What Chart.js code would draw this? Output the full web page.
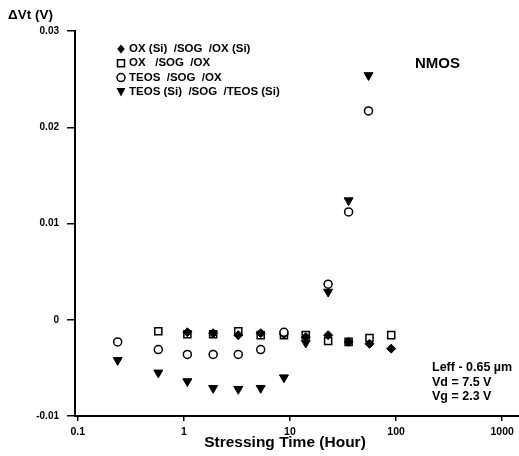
<!DOCTYPE html>
<html>
<head>
<meta charset="utf-8">
<script src="https://cdn.jsdelivr.net/npm/chart.js@4.4.0/dist/chart.umd.min.js"></script>
<style>
  html, body { margin: 0; padding: 0; background: #fff; overflow: hidden; }
  #wrap { width: 519px; height: 456px; position: relative; }
</style>
</head>
<body>
<div id="wrap"><canvas id="chart"></canvas></div>
<script>
// stressing time (hour) and delta Vt (V)
const diamondTime = [1.08, 1.89, 3.26, 5.3, 8.78, 14.1, 22.9, 35.7, 56.2, 90];
const diamondVt = [-0.0013, -0.0014, -0.0016, -0.0014, -0.0015, -0.0018, -0.0016, -0.0023, -0.0025, -0.0030];

const squareTime = [0.575, 1.08, 1.89, 3.26, 5.3, 8.78, 14.1, 22.9, 35.7, 56.2, 90];
const squareVt = [-0.0012, -0.0015, -0.0015, -0.0012, -0.0016, -0.0016, -0.0016, -0.0022, -0.0023, -0.0019, -0.0016];

const circleTime = [0.238, 0.575, 1.08, 1.89, 3.26, 5.3, 8.78, 22.9, 35.7, 55];
const circleVt = [-0.0023, -0.0031, -0.0036, -0.0036, -0.0036, -0.0031, -0.0013, 0.0037, 0.0112, 0.0217];

const triangleTime = [0.238, 0.575, 1.08, 1.89, 3.26, 5.3, 8.78, 14.1, 22.9, 35.7, 55];
const triangleVt = [-0.0042, -0.0055, -0.0064, -0.0071, -0.0072, -0.0071, -0.0060, -0.0024, 0.0029, 0.0124, 0.0254];

const xTickValues = [0.1, 1, 10, 100, 1000];
const seriesNames = [
  'OX (Si)  /SOG  /OX (Si)',
  'OX   /SOG  /OX',
  'TEOS  /SOG  /OX',
  'TEOS (Si)  /SOG  /TEOS (Si)'
];
const noteLines = ['Leff - 0.65 \u00b5m', 'Vd = 7.5 V', 'Vg = 2.3 V'];

const FONT = '"Liberation Sans", Arial, sans-serif';

function toPoints(xs, ys) {
  return xs.map((x, i) => ({ x: x, y: ys[i] }));
}

// small marker painter, used for the hand-placed legend
function drawMarker(ctx, kind, x, y) {
  ctx.save();
  ctx.strokeStyle = '#000';
  ctx.fillStyle = '#000';
  ctx.lineWidth = 1.5;
  ctx.beginPath();
  if (kind === 'diamond') {
    ctx.moveTo(x, y - 4.5); ctx.lineTo(x + 3.8, y); ctx.lineTo(x, y + 4.5); ctx.lineTo(x - 3.8, y);
    ctx.closePath(); ctx.fill();
  } else if (kind === 'square') {
    ctx.rect(x - 3.5, y - 3.5, 7, 7);
    ctx.stroke();
  } else if (kind === 'circle') {
    ctx.arc(x, y, 4, 0, Math.PI * 2);
    ctx.stroke();
  } else {
    ctx.moveTo(x - 4.5, y - 4); ctx.lineTo(x + 4.5, y - 4); ctx.lineTo(x, y + 4.5);
    ctx.closePath(); ctx.fill();
  }
  ctx.restore();
}

const textPlugin = {
  id: 'textPlugin',
  afterDraw(chart) {
    const ctx = chart.ctx;
    const area = chart.chartArea;
    ctx.save();

    // the x axis line runs on to the right edge of the figure
    ctx.strokeStyle = '#000';
    ctx.lineWidth = 2;
    ctx.beginPath();
    ctx.moveTo(area.right - 1, area.bottom);
    ctx.lineTo(chart.width, area.bottom);
    ctx.stroke();

    ctx.fillStyle = '#000';
    ctx.textBaseline = 'middle';

    ctx.font = 'bold 13.5px ' + FONT;
    ctx.textAlign = 'left';
    ctx.fillText('\u0394Vt (V)', 8, 15);

    const kinds = ['diamond', 'square', 'circle', 'triangle'];
    ctx.font = 'bold 11.5px ' + FONT;
    kinds.forEach((k, i) => {
      const y = 49 + i * 14.3;
      drawMarker(ctx, k, 121, y);
      ctx.fillText(seriesNames[i], 129, y);
    });

    ctx.font = 'bold 15px ' + FONT;
    ctx.fillText('NMOS', 415, 64);

    ctx.font = 'bold 12.5px ' + FONT;
    noteLines.forEach((t, i) => ctx.fillText(t, 432, 368 + i * 14.5));

    ctx.font = 'bold 15.5px ' + FONT;
    ctx.textAlign = 'center';
    ctx.fillText('Stressing Time (Hour)', 285, 443);
    ctx.restore();
  }
};

const ctx = document.getElementById('chart').getContext('2d');
const chart = new Chart(ctx, {
  type: 'scatter',
  data: {
    datasets: [
      {
        label: seriesNames[3],
        data: toPoints(triangleTime, triangleVt),
        pointStyle: 'triangle',
        rotation: 180,
        radius: 5.2,
        backgroundColor: '#000',
        borderColor: '#000',
        borderWidth: 1
      },
      {
        label: seriesNames[2],
        data: toPoints(circleTime, circleVt),
        pointStyle: 'circle',
        radius: 4,
        backgroundColor: '#fff',
        borderColor: '#000',
        borderWidth: 1.5
      },
      {
        label: seriesNames[0],
        data: toPoints(diamondTime, diamondVt),
        pointStyle: 'rectRot',
        radius: 4.5,
        backgroundColor: '#000',
        borderColor: '#000',
        borderWidth: 1
      },
      {
        label: seriesNames[1],
        data: toPoints(squareTime, squareVt),
        pointStyle: 'rect',
        radius: 5,
        backgroundColor: '#fff',
        borderColor: '#000',
        borderWidth: 1.5
      }
    ]
  },
  options: {
    responsive: true,
    maintainAspectRatio: false,
    animation: false,
    clip: false,
    layout: { padding: { top: 31, right: 0, left: 0, bottom: 0 } },
    plugins: {
      legend: { display: false },
      tooltip: { enabled: false }
    },
    scales: {
      x: {
        type: 'logarithmic',
        min: 0.0943,
        max: 1242,
        afterBuildTicks: function(scale) {
          scale.ticks = xTickValues.map(v => ({ value: v }));
        },
        afterFit: function(scale) { scale.height = 40; },
        grid: { drawOnChartArea: false, drawTicks: true, tickLength: 5, color: '#000', lineWidth: 1.5 },
        border: { display: true, color: '#000', width: 2 },
        ticks: {
          color: '#000',
          font: { family: FONT, size: 10.5, weight: 'bold' },
          padding: 5,
          maxRotation: 0,
          autoSkip: false,
          callback: function(v) { return String(v); }
        }
      },
      y: {
        type: 'linear',
        min: -0.01,
        max: 0.03,
        afterFit: function(scale) { scale.width = 75; },
        grid: { drawOnChartArea: false, drawTicks: true, tickLength: 8, color: '#000', lineWidth: 1.5 },
        border: { display: true, color: '#000', width: 2 },
        ticks: {
          stepSize: 0.01,
          color: '#000',
          font: { family: FONT, size: 10, weight: 'bold' },
          padding: 8,
          callback: function(v) {
            if (Math.abs(v) < 1e-9) return '0';
            return v.toFixed(2);
          }
        }
      }
    }
  },
  plugins: [textPlugin]
});
</script>
</body>
</html>
